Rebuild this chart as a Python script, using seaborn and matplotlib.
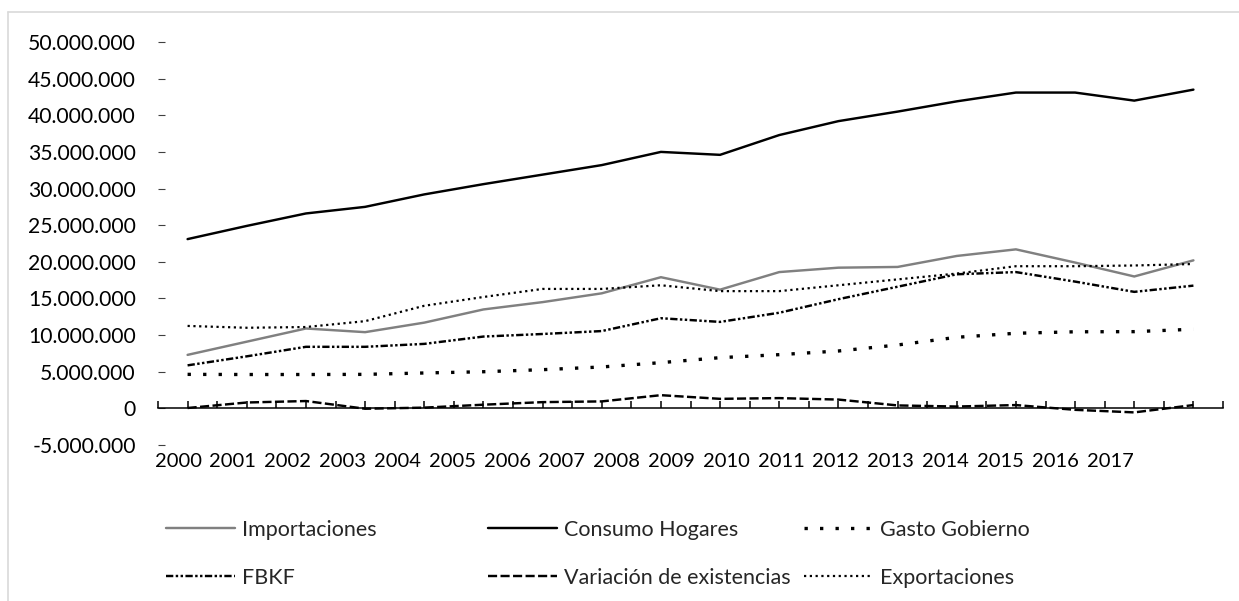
import seaborn as sns
import matplotlib.pyplot as plt
from matplotlib.ticker import FuncFormatter, MultipleLocator, FixedLocator
from matplotlib.lines import Line2D

# Componentes del PIB por el lado del gasto (valores en unidades monetarias)
years = list(range(2000, 2018))
importaciones = [7.3, 9.1, 10.9, 10.4, 11.7, 13.5, 14.5, 15.7, 17.9, 16.2,
                 18.6, 19.2, 19.3, 20.8, 21.7, 19.9, 18.0, 20.2]
consumo_hogares = [23.1, 24.9, 26.6, 27.5, 29.2, 30.6, 31.9, 33.2, 35.0, 34.6,
                   37.3, 39.2, 40.5, 41.9, 43.1, 43.1, 42.0, 43.5]
gasto_gobierno = [4.64, 4.62, 4.62, 4.64, 4.83, 5.0, 5.28, 5.65, 6.24, 6.92,
                  7.33, 7.83, 8.65, 9.7, 10.25, 10.45, 10.47, 10.8]
fbkf = [5.87, 7.1, 8.4, 8.4, 8.8, 9.8, 10.15, 10.55, 12.3, 11.8,
        13.05, 14.9, 16.6, 18.3, 18.6, 17.3, 15.9, 16.75]
variacion_existencias = [0.05, 0.8, 1.0, -0.05, 0.1, 0.5, 0.85, 0.95, 1.8, 1.3,
                         1.4, 1.2, 0.4, 0.25, 0.45, -0.2, -0.55, 0.45]
exportaciones = [11.25, 11.0, 11.1, 11.9, 14.0, 15.2, 16.3, 16.3, 16.8, 16.0,
                 16.0, 16.8, 17.6, 18.4, 19.4, 19.4, 19.5, 19.7]
series_names = ["Importaciones", "Consumo Hogares", "Gasto Gobierno",
                "FBKF", "Variación de existencias", "Exportaciones"]
series_values = [importaciones, consumo_hogares, gasto_gobierno,
                 fbkf, variacion_existencias, exportaciones]
MILLION = 1_000_000

sns.set_theme(style="white")
plt.rcParams["font.family"] = ["Lato", "DejaVu Sans"]

W, H = 1239, 601
fig = plt.figure(figsize=(W / 100, H / 100), dpi=100)
ax = fig.add_axes([158 / W, (H - 445) / H, (1223 - 158) / W, (445 - 42) / H])

styles = {
    "Importaciones": dict(color="#808080", lw=1.75, linestyle="-"),
    "Consumo Hogares": dict(color="black", lw=1.75, linestyle="-"),
    "Gasto Gobierno": dict(color="black", lw=2.4, linestyle=(0, (1, 3.65))),
    "FBKF": dict(color="black", lw=1.75, linestyle=(0, (3, 1, 1, 1, 1, 1))),
    "Variación de existencias": dict(color="black", lw=1.75, linestyle=(0, (3.75, 1.4))),
    "Exportaciones": dict(color="black", lw=1.6, linestyle=(0, (1, 1.6))),
}

# each year occupies two category slots on the axis
xpos = [1 + 2 * i for i in range(len(years))]
for name, vals in zip(series_names, series_values):
    st = styles[name]
    sns.lineplot(x=xpos, y=[v * MILLION for v in vals], ax=ax, legend=False,
                 color=st["color"], linewidth=st["lw"], linestyle=st["linestyle"],
                 dash_capstyle="butt", solid_joinstyle="miter")

ax.set_xlim(0, 36)
ax.set_ylim(-5 * MILLION, 50 * MILLION)

for s in ["top", "right", "left"]:
    ax.spines[s].set_visible(False)
ax.spines["bottom"].set_position(("data", 0))
ax.spines["bottom"].set_color("black")
ax.spines["bottom"].set_linewidth(1.1)

ax.xaxis.set_major_locator(MultipleLocator(1))
ax.tick_params(axis="x", direction="in", length=5, width=1.1, color="black",
               labelbottom=False, bottom=True)

ax.yaxis.set_major_locator(FixedLocator([v * MILLION for v in range(-5, 51, 5)]))
ax.yaxis.set_major_formatter(FuncFormatter(lambda v, p: f"{v:,.0f}".replace(",", ".")))
ax.tick_params(axis="y", direction="in", length=5, width=0.8, color="#404040",
               pad=16, labelsize=15.2, labelcolor="black", left=True)
ax.set_xlabel("")
ax.set_ylabel("")

# year labels set along the bottom edge
sec = ax.secondary_xaxis(location=0)
label_pos = [0.68 + 1.853 * j for j in range(len(years))]
sec.set_xticks(label_pos, labels=[str(y) for y in years])
sec.tick_params(axis="x", length=0, pad=6, labelsize=14.5, labelcolor="black")
sec.spines["bottom"].set_visible(False)

# legend in three columns
def handle(name):
    st = styles[name]
    return Line2D([], [], color=st["color"], lw=st["lw"], linestyle=st["linestyle"],
                  dash_capstyle="butt")

columns = [(166, ["Importaciones", "FBKF"]),
           (488, ["Consumo Hogares", "Variación de existencias"]),
           (804, ["Gasto Gobierno", "Exportaciones"])]
for xpix, names in columns:
    fig.legend([handle(n) for n in names], names, loc="upper left",
               bbox_to_anchor=(xpix / W, (H - 520) / H), frameon=False,
               fontsize=15.5, handlelength=3.2, handletextpad=0.35,
               labelspacing=1.3, borderpad=0, borderaxespad=0)

# chart area border
border = dict(color="#d9d9d9", lw=1.2, transform=fig.transFigure)
fig.add_artist(Line2D([8 / W, 1], [(H - 12) / H, (H - 12) / H], **border))
fig.add_artist(Line2D([8 / W, 8 / W], [0, (H - 12) / H], **border))

fig.savefig("out.png", dpi=100, facecolor="white")
